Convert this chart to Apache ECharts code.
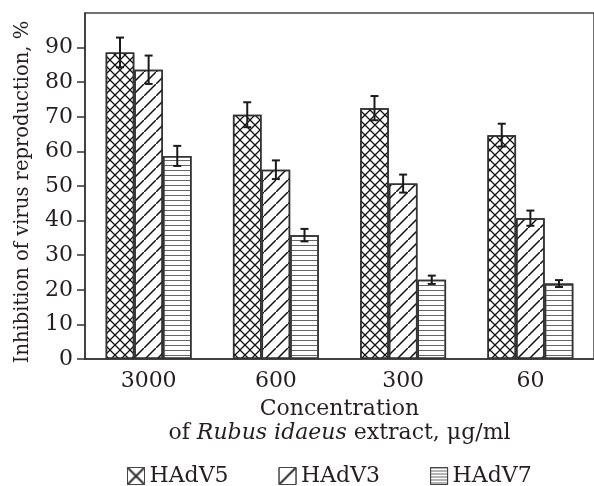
<!doctype html>
<html lang="en">
<head>
<meta charset="utf-8">
<script src="https://cdn.jsdelivr.net/npm/echarts@6/dist/echarts.min.js"></script>
<style>
  html, body { margin: 0; padding: 0; background: #fff; }
  #main { width: 594px; height: 486px; }
</style>
</head>
<body>
<div id="main"></div>
<script>
  // concentrations of the extract, ug/ml
  var categories = ['3000', '600', '300', '60'];
  // inhibition, %  and error (+/-)
  var hadv5 = [88.6, 70.6, 72.5, 64.7];
  var err5 = [4.3, 3.6, 3.5, 3.3];
  var hadv3 = [83.6, 54.7, 50.7, 40.7];
  var err3 = [4.1, 2.7, 2.6, 2.2];
  var hadv7 = [58.7, 35.8, 22.9, 21.8];
  var err7 = [2.9, 1.8, 1.2, 1.0];
  var yTicks = [0, 10, 20, 30, 40, 50, 60, 70, 80, 90];

  var FONT = 'DejaVu Serif';
  var TXT = '#231f20';
  var LINE = '#333';
  var GAP = 0.325;

  var crossPath = 'path://M0,0L0.9,0L10,9.1L10,10L9.1,10L0,0.9Z M9.1,0L10,0L10,0.9L0.9,10L0,10L0,9.1Z';
  var diagPath = 'path://M9.1,0L10,0L10,0.9L0.9,10L0,10L0,9.1Z';

  var decal5 = { symbol: crossPath, symbolSize: 1, dashArrayX: [10, 0], dashArrayY: [10, 0], color: '#111' };
  var decal3 = { symbol: diagPath, symbolSize: 1, dashArrayX: [12, 0], dashArrayY: [12, 0], color: '#111' };
  var decal7 = { symbol: 'rect', symbolSize: 1, dashArrayX: [1, 0], dashArrayY: [1, 4], color: '#666' };

  function errData(vals, errs) {
    return vals.map(function (v, i) { return [i, v - errs[i], v + errs[i]]; });
  }

  function errRender(idx) {
    return function (params, api) {
      var c = api.value(0);
      var lo = api.coord([c, api.value(1)]);
      var hi = api.coord([c, api.value(2)]);
      var band = api.size([1, 0])[0];
      var bw = band * (1 - GAP) / 3;
      var cx = lo[0] + (idx - 1) * bw;
      var cap = 4;
      var st = { stroke: '#1a1a1a', lineWidth: 2 };
      return {
        type: 'group',
        children: [
          { type: 'line', shape: { x1: cx, y1: hi[1], x2: cx, y2: lo[1] }, style: st },
          { type: 'line', shape: { x1: cx - cap, y1: hi[1], x2: cx + cap, y2: hi[1] }, style: st },
          { type: 'line', shape: { x1: cx - cap, y1: lo[1], x2: cx + cap, y2: lo[1] }, style: st }
        ]
      };
    };
  }

  function barSeries(name, data, decal) {
    return {
      name: name,
      type: 'bar',
      data: data,
      barGap: '0%',
      barCategoryGap: (GAP * 100) + '%',
      itemStyle: { color: '#fff', borderColor: LINE, borderWidth: 1.5, decal: decal }
    };
  }

  function errSeries(name, vals, errs, idx) {
    return {
      name: name,
      type: 'custom',
      renderItem: errRender(idx),
      data: errData(vals, errs),
      encode: { x: 0, y: [1, 2] },
      z: 5
    };
  }

  var chart = echarts.init(document.getElementById('main'));
  chart.setOption({
    animation: false,
    textStyle: { fontFamily: FONT, color: TXT },
    grid: {
      left: 85, right: -4, top: 13, bottom: 127,
      show: true, borderColor: '#444', borderWidth: 1.5, backgroundColor: 'transparent'
    },
    legend: {
      left: 127, top: 465, padding: 0,
      icon: 'rect',
      itemWidth: 17, itemHeight: 17, itemGap: 50,
      textStyle: { fontFamily: FONT, fontSize: 22, color: TXT },
      data: [
        { name: 'HAdV5', itemStyle: { borderColor: '#444', borderWidth: 1, decal: { symbol: crossPath, symbolSize: 1, dashArrayX: [17, 0], dashArrayY: [17, 0], color: '#333' } } },
        { name: 'HAdV3', itemStyle: { borderColor: '#444', borderWidth: 1, decal: { symbol: diagPath, symbolSize: 1, dashArrayX: [17, 0], dashArrayY: [17, 0], color: '#333' } } },
        { name: 'HAdV7', itemStyle: { borderColor: '#444', borderWidth: 1, decal: { symbol: 'rect', symbolSize: 1, dashArrayX: [1, 0], dashArrayY: [1, 2], color: '#666' } } }
      ]
    },
    xAxis: {
      type: 'category',
      data: categories,
      axisLine: { lineStyle: { color: LINE, width: 1.5 } },
      axisTick: { inside: true, length: 8, lineStyle: { color: LINE, width: 1.5 } },
      axisLabel: { margin: 11, fontFamily: FONT, fontSize: 22, color: TXT },
      name: '{a|Concentration}\n{a|of }{i|Rubus idaeus}{a| extract, μg/ml}',
      nameLocation: 'middle',
      nameGap: 38,
      nameTextStyle: {
        lineHeight: 24,
        rich: {
          a: { fontFamily: FONT, fontSize: 22, color: TXT, lineHeight: 24 },
          i: { fontFamily: FONT, fontSize: 22, fontStyle: 'italic', color: TXT, lineHeight: 24 }
        }
      }
    },
    yAxis: {
      type: 'value',
      min: 0, max: 100, interval: 10,
      splitLine: { show: false },
      axisLine: { show: true, lineStyle: { color: LINE, width: 1.5 } },
      axisTick: { show: true, length: 8, customValues: yTicks, lineStyle: { color: LINE, width: 1.5 } },
      axisLabel: { margin: 12, fontFamily: FONT, fontSize: 22, color: TXT, customValues: yTicks },
      name: 'Inhibition of virus reproduction, %',
      nameLocation: 'middle',
      nameGap: 52,
      nameTextStyle: { fontFamily: FONT, fontSize: 19.5, color: TXT, padding: [0, 12, 0, 0] }
    },
    series: [
      barSeries('HAdV5', hadv5, decal5),
      barSeries('HAdV3', hadv3, decal3),
      barSeries('HAdV7', hadv7, decal7),
      errSeries('err5', hadv5, err5, 0),
      errSeries('err3', hadv3, err3, 1),
      errSeries('err7', hadv7, err7, 2)
    ]
  });
</script>
</body>
</html>
